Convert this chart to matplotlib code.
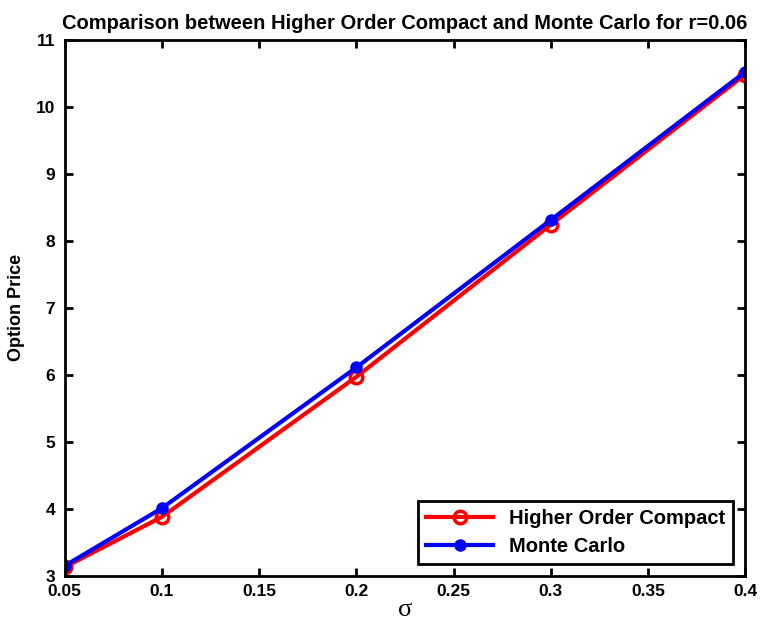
import matplotlib
matplotlib.use('Agg')
import matplotlib.pyplot as plt

sigma = [0.05, 0.1, 0.2, 0.3, 0.4]
hoc_price = [3.13, 3.88, 5.97, 8.24, 10.48]
mc_price = [3.15, 4.01, 6.11, 8.31, 10.52]

plt.rcParams['font.family'] = 'Liberation Sans'
plt.rcParams['font.weight'] = 'bold'

fig = plt.figure(figsize=(7.62, 6.3), dpi=100)
ax = fig.add_axes([0.085, 0.086, 0.893, 0.851])

ax.plot(sigma, hoc_price, color='red', linewidth=3, marker='o', markersize=9,
        markerfacecolor='none', markeredgewidth=2.5, label='Higher Order Compact')
ax.plot(sigma, mc_price, color='blue', linewidth=3, marker='o', markersize=8,
        markerfacecolor='blue', label='Monte Carlo')

ax.set_xlim(0.05, 0.4)
ax.set_ylim(3, 11)
ax.set_xticks([0.05, 0.1, 0.15, 0.2, 0.25, 0.3, 0.35, 0.4])
ax.set_xticklabels(['0.05', '0.1', '0.15', '0.2', '0.25', '0.3', '0.35', '0.4'])
ax.set_yticks(range(3, 12))
ax.tick_params(direction='in', length=6, width=2, labelsize=12.5, top=True, right=True)
ax.tick_params(axis='y', pad=7)
ax.tick_params(axis='x', pad=6)
for s in ax.spines.values():
    s.set_linewidth(2)

ax.set_title('Comparison between Higher Order Compact and Monte Carlo for r=0.06',
             fontsize=14.5, fontweight='bold', pad=8)
ax.set_ylabel('Option Price', fontsize=13, fontweight='bold', labelpad=8)
ax.set_xlabel('σ', fontsize=19, fontweight='normal', family='Liberation Serif', labelpad=0)

leg = ax.legend(loc='lower right', fontsize=14.5, fancybox=False, edgecolor='black',
                framealpha=1, handlelength=3.3, borderaxespad=0.6, labelspacing=0.45)
leg.get_frame().set_linewidth(2)

fig.savefig('out.png', dpi=100)
